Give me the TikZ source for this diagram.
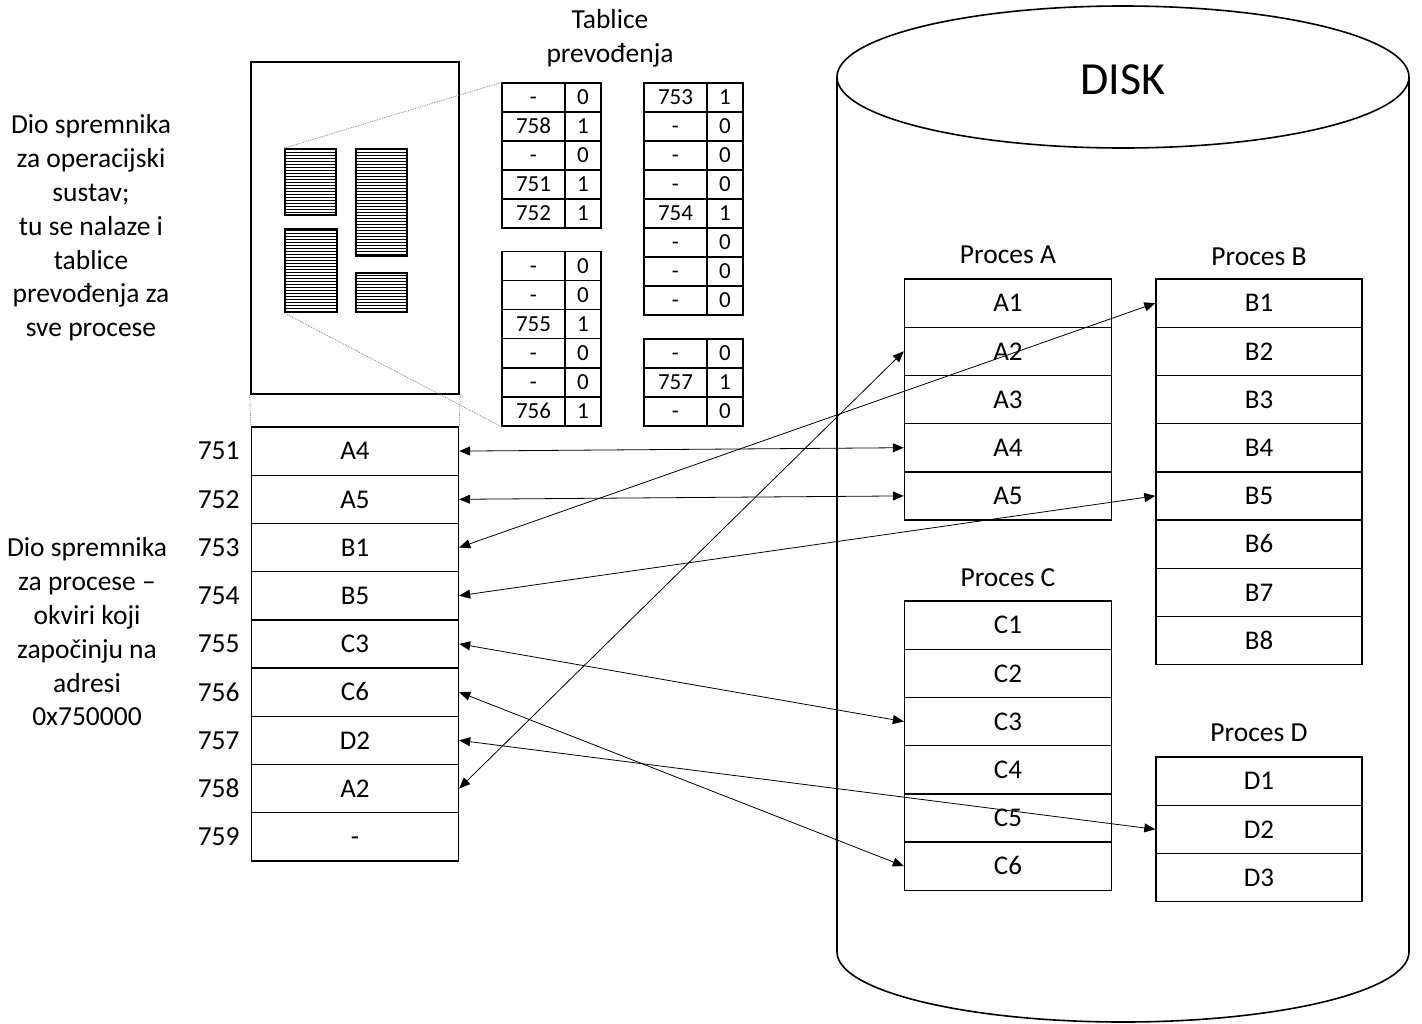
\documentclass[tikz,border=0pt]{standalone}
\usepackage{fontspec}
\setmainfont{Carlito}
\usetikzlibrary{arrows.meta, positioning, patterns}

\begin{document}
\begin{tikzpicture}[x=1pt, y=-1pt,
  every node/.style={inner sep=0pt},
  cell/.style={draw, line width=1.4pt, minimum width=207pt, minimum height=48.2pt,
    text height=17.5pt, text depth=0pt, font=\fontsize{27}{32}\selectfont},
  tcell/.style={draw, line width=1.2pt, minimum height=29pt,
    text height=14.8pt, text depth=0pt, font=\fontsize{23}{27}\selectfont},
  hatch/.style={draw, line width=1.8pt, pattern=horizontal lines},
  lbl/.style={font=\fontsize{27.5}{33.8}\selectfont, align=center},
  link/.style={{Triangle[length=11pt,width=9pt]}-{Triangle[length=11pt,width=9pt]},
    line width=0.8pt},
  zoomline/.style={densely dotted, gray, line width=0.8pt}]
  \useasboundingbox (0,0) rectangle (1422,1023);

  % Disk
  \draw[line width=1.6pt] (837,77) -- (837,952)
    .. controls (837,990.7) and (965,1022) .. (1123,1022)
    .. controls (1281,1022) and (1409,990.7) .. (1409,952) -- (1409,77);
  \draw[line width=1.6pt, fill=white] (1123,77) ellipse [x radius=286, y radius=71];
  \node[font=\fontsize{46}{50}\selectfont] (disk) at (1123,80) {DISK};

  % Operating system part of memory
  \node[draw, line width=2.4pt, minimum width=208pt, minimum height=332pt] (os) at (355,228) {};
  \node[hatch, minimum width=51pt, minimum height=66pt]  (hb1) at (310.5,182) {};
  \node[hatch, minimum width=51pt, minimum height=107pt] (hb2) at (381.5,202.5) {};
  \node[hatch, minimum width=52pt, minimum height=83pt]  (hb3) at (311,270.5) {};
  \node[hatch, minimum width=51pt, minimum height=39pt]  (hb4) at (381.5,292.5) {};
  \node[lbl] (ostext) at (91,228) {Dio spremnika\\za operacijski\\sustav;\\tu se nalaze i\\tablice\\prevođenja za\\sve procese};

  % Translation tables
  \node[lbl] (ttitle) at (610,38) {Tablice\\prevođenja};
  \foreach \r/\p/\v in {1/-/0, 2/758/1, 3/-/0, 4/751/1, 5/752/1} {
    \node[tcell, minimum width=63pt] (t1p\r) at (533.5,{83+29*(\r-0.5)}) {\p};
    \node[tcell, minimum width=36pt] (t1b\r) at (583,{83+29*(\r-0.5)}) {\v};
  }
  \foreach \r/\p/\v in {1/-/0, 2/-/0, 3/755/1, 4/-/0, 5/-/0, 6/756/1} {
    \node[tcell, minimum width=63pt] (t2p\r) at (533.5,{251.5+29.1*(\r-0.5)}) {\p};
    \node[tcell, minimum width=36pt] (t2b\r) at (583,{251.5+29.1*(\r-0.5)}) {\v};
  }
  \foreach \r/\p/\v in {1/753/1, 2/-/0, 3/-/0, 4/-/0, 5/754/1, 6/-/0, 7/-/0, 8/-/0} {
    \node[tcell, minimum width=63pt] (t3p\r) at (675.5,{83+29*(\r-0.5)}) {\p};
    \node[tcell, minimum width=36pt] (t3b\r) at (725,{83+29*(\r-0.5)}) {\v};
  }
  \foreach \r/\p/\v in {1/-/0, 2/757/1, 3/-/0} {
    \node[tcell, minimum width=63pt] (t4p\r) at (675.5,{339+29*(\r-0.5)}) {\p};
    \node[tcell, minimum width=36pt] (t4b\r) at (725,{339+29*(\r-0.5)}) {\v};
  }
  \draw[zoomline] (hb1.north west) -- (t1p1.north west);
  \draw[zoomline] (hb3.south west) -- (t2p6.south west);

  % Memory frames for processes
  \foreach \i/\n/\c in {1/751/A4, 2/752/A5, 3/753/B1, 4/754/B5, 5/755/C3,
                        6/756/C6, 7/757/D2, 8/758/A2, 9/759/-} {
    \node[cell] (f\n) at (355,{427+48.2*(\i-0.5)}) {\c};
    \node[lbl, left=11pt of f\n] (a\n) {\n};
  }
  \draw[zoomline] (os.south west) -- (f751.north west);
  \draw[zoomline] (os.south east) -- (f751.north east);
  \node[lbl] (frtext) at (87,632) {Dio spremnika\\za procese --\\okviri koji\\započinju na\\adresi\\0x750000};

  % Processes on disk
  \node[lbl] (tA) at (1008,255) {Proces A};
  \foreach \i in {1,...,5}
    \node[cell] (pA\i) at (1008,{279+48.2*(\i-0.5)}) {A\i};
  \node[lbl] (tB) at (1259,257) {Proces B};
  \foreach \i in {1,...,8}
    \node[cell, minimum width=206pt] (pB\i) at (1259,{279+48.2*(\i-0.5)}) {B\i};
  \node[lbl] (tC) at (1008,578) {Proces C};
  \foreach \i in {1,...,6}
    \node[cell] (pC\i) at (1008,{601+48.2*(\i-0.5)}) {C\i};
  \node[lbl] (tD) at (1259,733) {Proces D};
  \foreach \i in {1,...,3}
    \node[cell, minimum width=206pt] (pD\i) at (1259,{757+48.2*(\i-0.5)}) {D\i};

  % Mapping frames <-> pages
  \foreach \f/\p in {751/A4, 752/A5, 753/B1, 754/B5, 755/C3, 756/C6, 757/D2, 758/A2}
    \draw[link] (f\f.east) -- (p\p.west);
\end{tikzpicture}
\end{document}
